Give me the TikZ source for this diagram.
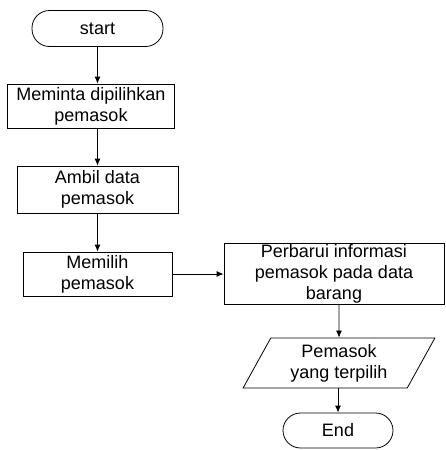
\documentclass[tikz,border=0pt]{standalone}
\usepackage{fontspec}
\setmainfont{Liberation Sans}
\usetikzlibrary{shapes.geometric, arrows.meta}

\tikzset{
    flowtext/.style={font=\fontsize{18}{21}\selectfont, align=center, inner sep=0pt},
    termbox/.style={flowtext, draw, rounded corners=17.5pt},
    procbox/.style={flowtext, draw},
    iobox/.style={flowtext, draw, shape=trapezium, trapezium left angle=62.5,
        trapezium right angle=117.5, trapezium stretches=true},
    flowline/.style={line width=0.8pt, -{Latex[length=7pt, width=6pt]}}
}

\begin{document}
\begin{tikzpicture}[x=1pt, y=-1pt, line width=0.8pt]
    \useasboundingbox (0,0) rectangle (445,450);

    % Define the positions of the nodes
    \coordinate (startPos) at (97.5, 28.5);
    \coordinate (mintaPos) at (91, 106);
    \coordinate (ambilPos) at (97.5, 189.5);
    \coordinate (pilihPos) at (97.5, 274);
    \coordinate (baruiPos) at (334, 273.5);
    \coordinate (hasilPos) at (339, 363);
    \coordinate (endPos) at (338, 430.5);

    % Draw the nodes
    \node[termbox, minimum width=131pt, minimum height=36pt] (start) at (startPos) {start};
    \node[procbox, minimum width=167pt, minimum height=44pt] (minta) at (mintaPos) {Meminta dipilihkan\\pemasok};
    \node[procbox, minimum width=161pt, minimum height=47pt] (ambil) at (ambilPos) {Ambil data\\pemasok};
    \node[procbox, minimum width=149pt, minimum height=44pt] (pilih) at (pilihPos) {Memilih\\pemasok};
    \node[procbox, minimum width=220pt, minimum height=61pt] (barui) at (baruiPos) {Perbarui informasi\\pemasok pada data\\barang};
    \node[iobox, minimum width=192pt, minimum height=50pt] (hasil) at (hasilPos) {Pemasok\\yang terpilih};
    \node[termbox, minimum width=110pt, minimum height=35pt] (end) at (endPos) {End};

    % Draw the lines
    \draw[flowline] (start) -- (start |- minta.north);
    \draw[flowline] (minta.south -| ambil) -- (ambil);
    \draw[flowline] (ambil) -- (pilih);
    \draw[flowline] (pilih) -- (barui.west |- pilih);
    \draw[flowline] (barui.south -| hasil) -- (hasil);
    \draw[flowline] (hasil.south -| end) -- (end);
\end{tikzpicture}
\end{document}
